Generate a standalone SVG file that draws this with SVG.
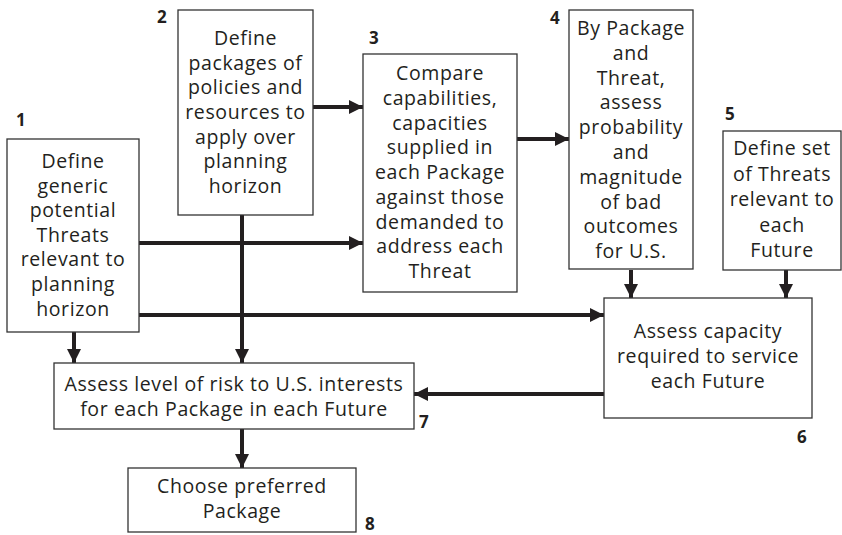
<svg xmlns="http://www.w3.org/2000/svg" width="842" height="535" viewBox="0 0 842 535">
<style>
.box{fill:#fff;stroke:#333;stroke-width:1.3}
.t{font-family:"Open Sans","Noto Sans","Liberation Sans",sans-serif;font-size:19.5px;letter-spacing:0.6px;fill:#231f20;text-anchor:middle}
.n{font-family:"Open Sans","Noto Sans","Liberation Sans",sans-serif;font-size:17px;font-weight:bold;fill:#231f20}
.c{stroke:#231f20;stroke-width:4;fill:none;marker-end:url(#ah)}
</style>
<defs>
<marker id="ah" markerUnits="userSpaceOnUse" markerWidth="16" markerHeight="16" viewBox="0 0 16 16" refX="14" refY="8" orient="auto">
<path d="M0,1 L14,8 L0,15 Z" fill="#231f20"/>
</marker>
</defs>
<g id="connectors">
<line class="c" x1="313" y1="107" x2="363" y2="107"/>
<line class="c" x1="139" y1="243" x2="363" y2="243"/>
<line class="c" x1="517" y1="139" x2="569" y2="139"/>
<line class="c" x1="139" y1="315" x2="604" y2="315"/>
<line class="c" x1="242" y1="215" x2="242" y2="363"/>
<line class="c" x1="74" y1="332" x2="74" y2="363"/>
<line class="c" x1="631" y1="270" x2="631" y2="298"/>
<line class="c" x1="786" y1="270" x2="786" y2="298"/>
<line class="c" x1="604" y1="394" x2="414" y2="394"/>
<line class="c" x1="242" y1="429" x2="242" y2="468"/>
</g>
<g id="node1">
<rect class="box" x="7" y="139" width="132" height="193"/>
<text class="t"><tspan x="73" y="168">Define</tspan><tspan x="73" y="192.6">generic</tspan><tspan x="73" y="217.2">potential</tspan><tspan x="73" y="241.8">Threats</tspan><tspan x="73" y="266.4">relevant to</tspan><tspan x="73" y="291">planning</tspan><tspan x="73" y="315.6">horizon</tspan></text>
<text class="n" x="16" y="126">1</text>
</g>
<g id="node2">
<rect class="box" x="178" y="10" width="135" height="205"/>
<text class="t"><tspan x="245.5" y="45">Define</tspan><tspan x="245.5" y="69.7">packages of</tspan><tspan x="245.5" y="94.3">policies and</tspan><tspan x="245.5" y="119">resources to</tspan><tspan x="245.5" y="143.7">apply over</tspan><tspan x="245.5" y="168.3">planning</tspan><tspan x="245.5" y="193">horizon</tspan></text>
<text class="n" x="157" y="23">2</text>
</g>
<g id="node3">
<rect class="box" x="363" y="54" width="154" height="238"/>
<text class="t"><tspan x="440" y="80">Compare</tspan><tspan x="440" y="104.75">capabilities,</tspan><tspan x="440" y="129.5">capacities</tspan><tspan x="440" y="154.25">supplied in</tspan><tspan x="440" y="179">each Package</tspan><tspan x="440" y="203.75">against those</tspan><tspan x="440" y="228.5">demanded to</tspan><tspan x="440" y="253.25">address each</tspan><tspan x="440" y="278">Threat</tspan></text>
<text class="n" x="369" y="44">3</text>
</g>
<g id="node4">
<rect class="box" x="569" y="10" width="124" height="259"/>
<text class="t"><tspan x="631" y="35">By Package</tspan><tspan x="631" y="59.8">and</tspan><tspan x="631" y="84.6">Threat,</tspan><tspan x="631" y="109.4">assess</tspan><tspan x="631" y="134.2">probability</tspan><tspan x="631" y="159">and</tspan><tspan x="631" y="183.8">magnitude</tspan><tspan x="631" y="208.6">of bad</tspan><tspan x="631" y="233.4">outcomes</tspan><tspan x="631" y="258.2">for U.S.</tspan></text>
<text class="n" x="550" y="24">4</text>
</g>
<g id="node5">
<rect class="box" x="723" y="131" width="118" height="139"/>
<text class="t"><tspan x="782" y="155">Define set</tspan><tspan x="782" y="180.5">of Threats</tspan><tspan x="782" y="206">relevant to</tspan><tspan x="782" y="231.5">each</tspan><tspan x="782" y="257">Future</tspan></text>
<text class="n" x="725" y="120">5</text>
</g>
<g id="node6">
<rect class="box" x="604" y="298" width="208" height="120"/>
<text class="t"><tspan x="708" y="338">Assess capacity</tspan><tspan x="708" y="363">required to service</tspan><tspan x="708" y="388">each Future</tspan></text>
<text class="n" x="797" y="443">6</text>
</g>
<g id="node7">
<rect class="box" x="54" y="363" width="360" height="66"/>
<text class="t"><tspan x="234" y="391">Assess level of risk to U.S. interests</tspan><tspan x="234" y="415.5">for each Package in each Future</tspan></text>
<text class="n" x="419" y="428">7</text>
</g>
<g id="node8">
<rect class="box" x="128" y="468" width="228" height="64"/>
<text class="t"><tspan x="242" y="493">Choose preferred</tspan><tspan x="242" y="518">Package</tspan></text>
<text class="n" x="365" y="530">8</text>
</g>
</svg>
